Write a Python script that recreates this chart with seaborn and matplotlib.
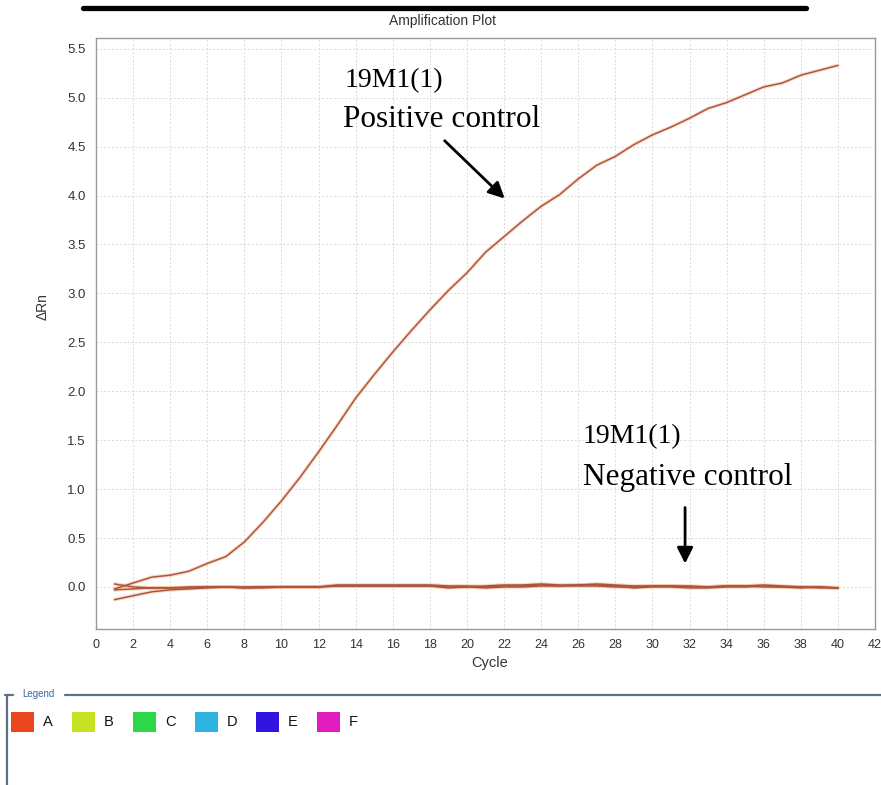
import matplotlib
matplotlib.use("Agg")
import matplotlib.pyplot as plt
from matplotlib.lines import Line2D
from matplotlib.patches import Rectangle
import seaborn as sns
import pandas as pd

# amplification data
cycles = list(range(1, 41))
positive = [-0.02, 0.04, 0.10, 0.12, 0.16, 0.24, 0.31, 0.46, 0.66, 0.88,
            1.12, 1.38, 1.65, 1.93, 2.17, 2.40, 2.62, 2.83, 3.03, 3.21,
            3.42, 3.58, 3.74, 3.89, 4.01, 4.17, 4.31, 4.40, 4.52, 4.62,
            4.70, 4.79, 4.89, 4.95, 5.03, 5.11, 5.15, 5.23, 5.28, 5.33]
neg_1 = [-0.13, -0.09, -0.05, -0.03, -0.02, -0.01, 0.00, 0.00, 0.00, 0.00,
         0.00, 0.00, 0.01, 0.01, 0.01, 0.01, 0.01, 0.01, 0.00, 0.00,
         0.01, 0.02, 0.02, 0.03, 0.02, 0.02, 0.03, 0.02, 0.01, 0.01,
         0.01, 0.00, 0.00, 0.01, 0.01, 0.02, 0.01, 0.00, 0.00, -0.01]
neg_2 = [0.03, 0.00, -0.01, -0.01, -0.01, 0.00, 0.00, -0.01, 0.00, 0.00,
         0.00, 0.00, 0.02, 0.02, 0.02, 0.02, 0.02, 0.02, 0.01, 0.01,
         0.00, 0.01, 0.01, 0.02, 0.01, 0.01, 0.01, 0.00, 0.00, 0.01,
         0.01, 0.01, 0.00, 0.01, 0.01, 0.00, 0.00, -0.01, 0.00, -0.01]
neg_3 = [-0.03, -0.02, -0.01, -0.01, 0.00, 0.00, 0.00, -0.01, -0.01, 0.00,
         0.00, 0.00, 0.01, 0.01, 0.01, 0.01, 0.01, 0.01, -0.01, 0.00,
         -0.01, 0.00, 0.00, 0.01, 0.01, 0.02, 0.02, 0.01, -0.01, 0.00,
         0.00, -0.01, -0.01, 0.00, 0.00, 0.01, 0.00, 0.00, -0.01, -0.01]

legend_labels = ["A", "B", "C", "D", "E", "F"]
legend_colors = ["#e8461e", "#c6e022", "#2ed64a", "#2eb4e0", "#3214e0", "#e01cc0"]

xticks = list(range(0, 43, 2))
yticks = [0.0, 0.5, 1.0, 1.5, 2.0, 2.5, 3.0, 3.5, 4.0, 4.5, 5.0, 5.5]

wells = {"pos": positive, "n1": neg_1, "n2": neg_2, "n3": neg_3}
df = pd.concat([pd.DataFrame({"Cycle": cycles, "dRn": v, "well": k})
                for k, v in wells.items()], ignore_index=True)

sns.set_style("white")
plt.rcParams["font.family"] = ["Liberation Sans", "DejaVu Sans"]

W, H = 881, 785
fig = plt.figure(figsize=(W / 100, H / 100), dpi=100)
ax = fig.add_axes([96 / W, 1 - 629 / H, (875 - 96) / W, (629 - 38) / H])

# soft orange halo under the traces, then the traces
sns.lineplot(data=df, x="Cycle", y="dRn", units="well", estimator=None,
             color="#f4a878", lw=2.6, alpha=0.45, ax=ax, legend=False)
sns.lineplot(data=df, x="Cycle", y="dRn", units="well", estimator=None,
             color="#a9553e", lw=1.05, ax=ax, legend=False)

ax.set_xlim(0, 42)
ax.set_ylim(-0.43, 5.61)
ax.set_xticks(xticks)
ax.set_yticks(yticks)
ax.set_yticklabels([f"{t:.1f}" for t in yticks])
ax.tick_params(axis="both", direction="out", length=4, width=0.8,
               color="#808080", labelcolor="#333333", labelsize=9.5)
ax.tick_params(axis="x", labelsize=9)
ax.grid(True, color="#dadada", ls=(0, (2, 2)), lw=0.7)
for s in ax.spines.values():
    s.set_color("#9a9a9a")
    s.set_linewidth(1.0)
ax.set_xlabel("")
ax.set_ylabel("")

fig.text(490 / W, 1 - 663 / H, "Cycle", ha="center", va="center",
         fontsize=10.5, color="#333333")
fig.text(43 / W, 1 - 307 / H, "ΔRn", ha="center", va="center",
         rotation=90, fontsize=10, color="#333333")
fig.text(442 / W, 1 - 21 / H, "Amplification Plot", ha="center", va="center",
         fontsize=10, color="#333333")

# thick black rule across the top
fig.add_artist(Line2D([83 / W, 806 / W], [1 - 8 / H, 1 - 8 / H],
                      color="black", lw=3.8, transform=fig.transFigure))

# annotations
serif = ["Liberation Serif", "DejaVu Serif"]
ax.text(13.42, 5.11, "19M1(1)", fontsize=20, family=serif, va="baseline",
        color="black")
ax.text(13.32, 4.70, "Positive control", fontsize=22.5, family=serif,
        va="baseline", color="black")
ax.text(26.26, 1.47, "19M1(1)", fontsize=20, family=serif, va="baseline",
        color="black")
ax.text(26.26, 1.04, "Negative control", fontsize=22.5, family=serif,
        va="baseline", color="black")
ax.annotate("", xy=(22.14, 3.95), xytext=(18.69, 4.58),
            arrowprops=dict(arrowstyle="-|>", color="black", lw=2,
                            mutation_scale=24))
ax.annotate("", xy=(31.76, 0.21), xytext=(31.76, 0.84),
            arrowprops=dict(arrowstyle="-|>", color="black", lw=2,
                            mutation_scale=24))

# legend panel below the plot
frame = "#5f7080"
fig.add_artist(Line2D([65 / W, 1.0], [1 - 695 / H, 1 - 695 / H], color=frame,
                      lw=1.6, transform=fig.transFigure))
fig.add_artist(Line2D([5 / W, 13 / W], [1 - 695 / H, 1 - 695 / H], color=frame,
                      lw=1.6, transform=fig.transFigure))
fig.add_artist(Line2D([7 / W, 7 / W], [1 - 695 / H, 0.0], color=frame,
                      lw=1.6, transform=fig.transFigure))
fig.text(22 / W, 1 - 694 / H, "Legend", fontsize=7, color="#3a64a8",
         ha="left", va="center")
for i, (lab, col) in enumerate(zip(legend_labels, legend_colors)):
    x0 = 11 + i * 61.2
    fig.add_artist(Rectangle((x0 / W, 1 - 732 / H), 23 / W, 20 / H,
                             facecolor=col, edgecolor="none",
                             transform=fig.transFigure))
    fig.text((x0 + 32) / W, 1 - 722 / H, lab, fontsize=10.5, color="#111111",
             ha="left", va="center")

fig.savefig("out.png", dpi=100)
